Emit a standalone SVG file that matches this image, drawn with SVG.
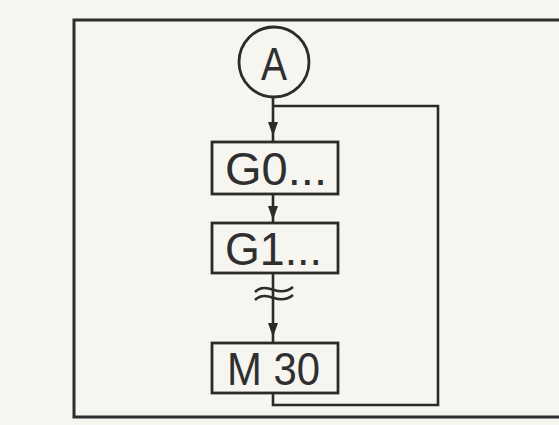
<svg xmlns="http://www.w3.org/2000/svg" width="559" height="425" viewBox="0 0 559 425">
  <defs>
    <style>
      .ln { fill: none; stroke: #2b2b2b; stroke-width: 2.6; }
      .box { fill: none; stroke: #2b2b2b; stroke-width: 2.8; }
      .frame { fill: none; stroke: #2e2e2e; stroke-width: 3; }
      .lbl { font-family: "Liberation Sans", Arial, sans-serif; font-size: 46px; fill: #2f2f2f; }
      .ah { fill: #2b2b2b; }
    </style>
    <path id="arrow" d="M -5 -14 L 5 -14 L 0 0 Z"/>
  </defs>
  <rect x="0" y="0" width="559" height="425" fill="#f6f5f0"/>
  <path class="frame" d="M 562 20 L 74 20 L 74 417 L 562 417"/>

  <g id="connectors">
    <line class="ln" x1="273" y1="97" x2="273" y2="142"/>
    <use href="#arrow" class="ah" x="273" y="136"/>
    <line class="ln" x1="273" y1="194" x2="273" y2="223"/>
    <use href="#arrow" class="ah" x="273" y="220"/>
    <line class="ln" x1="273" y1="273" x2="273" y2="343"/>
    <path class="ln" d="M 255 292 C 261 286, 268 288, 274 290 C 280 292, 287 292, 293 287"/>
    <path class="ln" d="M 255 300 C 261 294, 268 296, 274 298 C 280 300, 287 300, 293 295"/>
    <use href="#arrow" class="ah" x="273" y="337"/>
    <path class="ln" d="M 273 393 L 273 405 L 438 405 L 438 106 L 273 106"/>
  </g>

  <g id="nodeA">
    <circle class="box" cx="274" cy="62" r="35"/>
    <text class="lbl" x="274" y="80" font-size="43" text-anchor="middle" textLength="26" lengthAdjust="spacingAndGlyphs">A</text>
  </g>
  <g id="nodeG0">
    <rect class="box" x="212" y="142" width="126" height="52"/>
    <text class="lbl" x="225" y="185" textLength="102" lengthAdjust="spacingAndGlyphs">G0...</text>
  </g>
  <g id="nodeG1">
    <rect class="box" x="212" y="223" width="126" height="50"/>
    <text class="lbl" x="225" y="265" textLength="97" lengthAdjust="spacingAndGlyphs">G1...</text>
  </g>
  <g id="nodeM30">
    <rect class="box" x="212" y="343" width="126" height="50"/>
    <text class="lbl" x="227" y="385" textLength="93" lengthAdjust="spacingAndGlyphs">M 30</text>
  </g>
</svg>
